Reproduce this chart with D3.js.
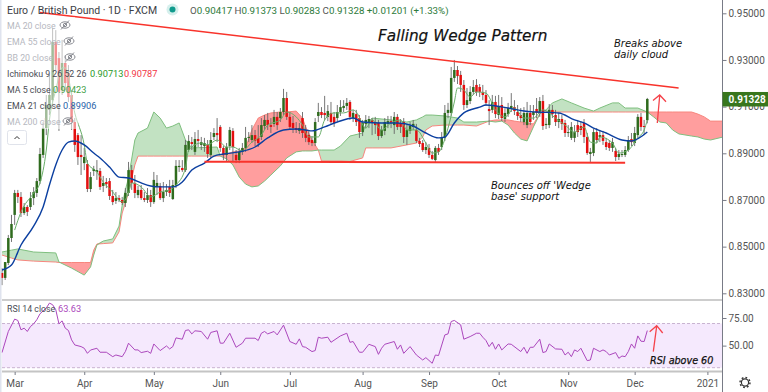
<!DOCTYPE html>
<html>
<head>
<meta charset="utf-8">
<script src="https://cdn.jsdelivr.net/npm/d3@7"></script>
<style>
  html, body { margin: 0; padding: 0; background: #fff; }
  svg { display: block; }
  text { font-family: Roboto, sans-serif; }
  .note { font-family: "DejaVu Sans", sans-serif; font-style: italic; fill: #111; }
</style>
</head>
<body>
<div id="chart"></div>
<script>
// daily candles, one entry per bar
const opens = [
  0.8387,0.8366,0.8430,0.8537,0.8636,0.8730,0.8713,0.8644,0.8670,0.8670,
  0.8708,0.8730,0.8781,0.8893,0.9008,0.9086,0.9128,0.9377,0.9308,0.9171,
  0.9287,0.9244,0.9150,0.9034,0.8978,0.8893,0.8858,0.8854,0.8747,0.8824,
  0.8820,0.8824,0.8760,0.8777,0.8781,0.8717,0.8696,0.8708,0.8700,0.8687,
  0.8730,0.8828,0.8773,0.8721,0.8743,0.8708,0.8700,0.8721,0.8691,0.8756,
  0.8760,0.8708,0.8734,0.8756,0.8704,0.8760,0.8841,0.8837,0.8828,0.8914,
  0.8948,0.8906,0.8961,0.8936,0.8931,0.8936,0.8893,0.8970,0.8987,0.9013,
  0.8923,0.8893,0.8931,0.8996,0.8893,0.8871,0.8906,0.8923,0.8966,0.8957,
  0.8978,0.8966,0.8970,0.9017,0.9043,0.9021,0.9026,0.9056,0.9051,0.9077,
  0.9137,0.9056,0.9030,0.9008,0.8996,0.9051,0.9000,0.8978,0.8957,0.8944,
  0.9060,0.9077,0.9073,0.9056,0.9073,0.9056,0.9051,0.9077,0.9094,0.9103,
  0.9120,0.9051,0.9068,0.9051,0.8991,0.9026,0.9034,0.9043,0.9034,0.9030,
  0.8974,0.8996,0.9026,0.9038,0.9021,0.9056,0.9026,0.9034,0.8970,0.8996,
  0.9013,0.9000,0.8953,0.8944,0.8914,0.8923,0.8893,0.8871,0.8923,0.8927,
  0.8966,0.9073,0.9073,0.9223,0.9257,0.9236,0.9193,0.9107,0.9124,0.9163,
  0.9193,0.9184,0.9163,0.9150,0.9090,0.9086,0.9120,0.9064,0.9107,0.9047,
  0.9068,0.9094,0.9098,0.9077,0.9064,0.9034,0.9021,0.9073,0.9064,0.9090,
  0.9073,0.9124,0.9021,0.9021,0.9086,0.9064,0.9034,0.9047,0.9030,0.8987,
  0.8966,0.8966,0.9021,0.9017,0.9030,0.8970,0.8897,0.8901,0.8991,0.8970,
  0.8978,0.8948,0.8944,0.8923,0.8910,0.8884,0.8893,0.8893,0.8914,0.8961,
  0.8944,0.8978,0.9056,0.9017,0.90417
];
const highs = [
  0.8408,0.8434,0.8550,0.8636,0.8743,0.8743,0.8734,0.8687,0.8678,0.8734,
  0.8755,0.8794,0.8923,0.9034,0.9150,0.9236,0.9437,0.9428,0.9334,0.9386,
  0.9321,0.9278,0.9171,0.9051,0.8987,0.8978,0.8923,0.8871,0.8820,0.8846,
  0.8871,0.8837,0.8803,0.8794,0.8794,0.8743,0.8734,0.8721,0.8713,0.8751,
  0.8863,0.8850,0.8807,0.8760,0.8764,0.8734,0.8751,0.8743,0.8820,0.8807,
  0.8773,0.8777,0.8768,0.8786,0.8786,0.8871,0.8871,0.8871,0.8957,0.8978,
  0.8970,0.8991,0.9000,0.8970,0.8966,0.8957,0.8991,0.9008,0.9051,0.9021,
  0.8931,0.8944,0.9013,0.9008,0.8914,0.8923,0.8944,0.9013,0.8991,0.9021,
  0.9000,0.9021,0.9051,0.9064,0.9073,0.9051,0.9086,0.9077,0.9094,0.9176,
  0.9163,0.9077,0.9060,0.9034,0.9030,0.9077,0.9021,0.9000,0.8974,0.9051,
  0.9116,0.9098,0.9146,0.9107,0.9120,0.9077,0.9107,0.9128,0.9128,0.9137,
  0.9128,0.9086,0.9086,0.9064,0.9043,0.9064,0.9060,0.9051,0.9056,0.9043,
  0.9017,0.9051,0.9060,0.9060,0.9077,0.9068,0.9047,0.9051,0.9021,0.9034,
  0.9043,0.9026,0.8966,0.8957,0.8948,0.8940,0.8910,0.8931,0.8940,0.8991,
  0.9107,0.9116,0.9270,0.9300,0.9274,0.9253,0.9214,0.9180,0.9188,0.9214,
  0.9218,0.9197,0.9193,0.9171,0.9128,0.9150,0.9146,0.9150,0.9141,0.9094,
  0.9116,0.9158,0.9128,0.9107,0.9094,0.9098,0.9120,0.9107,0.9107,0.9137,
  0.9141,0.9150,0.9051,0.9111,0.9107,0.9086,0.9073,0.9064,0.9043,0.9021,
  0.9034,0.9021,0.9043,0.9038,0.9047,0.8987,0.8923,0.9004,0.9008,0.9000,
  0.8996,0.8966,0.8957,0.8966,0.8923,0.8914,0.8914,0.8931,0.8974,0.8987,
  0.9013,0.9068,0.9073,0.9043,0.91373
];
const lows = [
  0.8335,0.8357,0.8421,0.8520,0.8593,0.8687,0.8627,0.8636,0.8631,0.8657,
  0.8678,0.8713,0.8768,0.8880,0.8978,0.9064,0.9107,0.9257,0.8996,0.9150,
  0.9171,0.9120,0.9000,0.8906,0.8850,0.8807,0.8828,0.8734,0.8734,0.8803,
  0.8786,0.8743,0.8734,0.8751,0.8700,0.8678,0.8683,0.8691,0.8678,0.8670,
  0.8717,0.8743,0.8708,0.8708,0.8700,0.8691,0.8687,0.8670,0.8683,0.8721,
  0.8700,0.8691,0.8717,0.8713,0.8700,0.8751,0.8820,0.8820,0.8820,0.8906,
  0.8914,0.8893,0.8927,0.8914,0.8906,0.8880,0.8880,0.8957,0.8948,0.8906,
  0.8871,0.8867,0.8914,0.8863,0.8858,0.8858,0.8893,0.8906,0.8948,0.8944,
  0.8931,0.8927,0.8957,0.9000,0.9000,0.8987,0.9013,0.9000,0.9034,0.9064,
  0.9043,0.9000,0.8987,0.8987,0.8983,0.8966,0.8948,0.8936,0.8931,0.8931,
  0.9034,0.9051,0.9043,0.9038,0.9021,0.9013,0.9038,0.9060,0.9077,0.9086,
  0.9043,0.9034,0.9017,0.8966,0.8974,0.9008,0.9008,0.8978,0.8983,0.8957,
  0.8966,0.8978,0.9008,0.9008,0.8983,0.9000,0.8987,0.8944,0.8936,0.8983,
  0.9000,0.8944,0.8927,0.8906,0.8897,0.8880,0.8871,0.8863,0.8893,0.8914,
  0.8953,0.9051,0.9060,0.9206,0.9197,0.9163,0.9086,0.9094,0.9111,0.9150,
  0.9146,0.9141,0.9128,0.9103,0.9021,0.9073,0.9051,0.9047,0.9038,0.9034,
  0.9056,0.9077,0.9064,0.9043,0.9034,0.9021,0.9008,0.9021,0.9043,0.9051,
  0.9056,0.9000,0.9004,0.9008,0.9051,0.9017,0.9008,0.9000,0.8970,0.8970,
  0.8957,0.8948,0.8970,0.8978,0.8944,0.8893,0.8863,0.8888,0.8944,0.8948,
  0.8936,0.8914,0.8910,0.8906,0.8867,0.8871,0.8884,0.8884,0.8906,0.8931,
  0.8931,0.8966,0.8996,0.8978,0.90283
];
const closes = [
  0.8366,0.8434,0.8537,0.8597,0.8730,0.8713,0.8644,0.8670,0.8649,0.8708,
  0.8734,0.8781,0.8897,0.9008,0.9107,0.9150,0.9377,0.9278,0.9163,0.9287,
  0.9201,0.9141,0.9034,0.8936,0.8884,0.8884,0.8884,0.8747,0.8798,0.8833,
  0.8828,0.8756,0.8773,0.8768,0.8717,0.8691,0.8708,0.8700,0.8687,0.8730,
  0.8828,0.8773,0.8730,0.8743,0.8708,0.8700,0.8721,0.8691,0.8786,0.8773,
  0.8708,0.8734,0.8743,0.8730,0.8764,0.8846,0.8846,0.8828,0.8936,0.8953,
  0.8940,0.8961,0.8953,0.8948,0.8944,0.8897,0.8957,0.8987,0.8978,0.8923,
  0.8893,0.8927,0.9000,0.8927,0.8871,0.8906,0.8923,0.8966,0.8970,0.8978,
  0.8953,0.8944,0.9021,0.9043,0.9021,0.9013,0.9056,0.9021,0.9077,0.9137,
  0.9056,0.9013,0.9008,0.9000,0.9008,0.8987,0.8966,0.8948,0.8944,0.9034,
  0.9077,0.9064,0.9064,0.9081,0.9034,0.9030,0.9077,0.9098,0.9103,0.9116,
  0.9056,0.9073,0.9034,0.8991,0.9030,0.9043,0.9047,0.9030,0.9021,0.8974,
  0.9000,0.9034,0.9038,0.9030,0.9056,0.9013,0.9013,0.8970,0.9000,0.9017,
  0.9026,0.8953,0.8940,0.8914,0.8927,0.8893,0.8876,0.8923,0.8906,0.8966,
  0.9073,0.9086,0.9223,0.9257,0.9231,0.9193,0.9107,0.9128,0.9163,0.9184,
  0.9163,0.9163,0.9150,0.9116,0.9081,0.9120,0.9068,0.9103,0.9051,0.9073,
  0.9094,0.9103,0.9081,0.9060,0.9051,0.9073,0.9073,0.9034,0.9077,0.9073,
  0.9124,0.9017,0.9026,0.9086,0.9068,0.9034,0.9047,0.9026,0.8987,0.8991,
  0.9013,0.8991,0.8991,0.9000,0.8970,0.8901,0.8906,0.8991,0.8957,0.8978,
  0.8953,0.8927,0.8923,0.8948,0.8884,0.8897,0.8897,0.8914,0.8957,0.8948,
  0.8987,0.9056,0.9013,0.9013,0.91328
];

// indicators, read at the bars where they turn
const emaBars = [0,3,6,10,13,15,17,19,21,23,26,29,31,34,37,40,41,44,47,50,54,57,60,64,67,70,75,80,84,89,93,96,98,102,106,111,114,120,125,130,134,138,140,143,146,151,153,160,165,169,176,181,184,187,191,196,199,204];
const emaValues = [0.8400,0.8421,0.8507,0.8588,0.8670,0.8764,0.8850,0.8914,0.8948,0.8953,0.8936,0.8901,0.8880,0.8841,0.8798,0.8794,0.8790,0.8773,0.8760,0.8756,0.8756,0.8777,0.8828,0.8858,0.8888,0.8897,0.8906,0.8927,0.8966,0.9000,0.9004,0.9000,0.8996,0.9013,0.9034,0.9051,0.9034,0.9030,0.9030,0.9017,0.8987,0.8966,0.8970,0.9030,0.9073,0.9098,0.9107,0.9094,0.9081,0.9077,0.9073,0.9043,0.9030,0.9008,0.8987,0.8957,0.8953,0.8991];

const maBars = [4,6,10,12,14,15,17,19,20,23,26,27,30,32,35,38,40,41,44,47,50,53,55,58,59,63,65,68,71,73,76,79,82,84,88,90,93,95,97,100,102,105,108,111,112,115,117,120,123,126,128,131,134,136,138,141,143,144,146,148,150,153,156,159,162,165,168,171,175,178,181,184,186,188,189,193,195,198,201,203,204];
const maValues = [0.8571,0.8648,0.8730,0.8773,0.8914,0.9043,0.9171,0.9266,0.9266,0.9073,0.8936,0.8858,0.8820,0.8777,0.8734,0.8691,0.8730,0.8773,0.8756,0.8713,0.8734,0.8743,0.8764,0.8837,0.8914,0.8944,0.8936,0.8957,0.8927,0.8927,0.8910,0.8948,0.8978,0.9021,0.9043,0.9077,0.9056,0.9021,0.8970,0.8970,0.9043,0.9073,0.9073,0.9086,0.9077,0.9008,0.9043,0.9000,0.9030,0.9043,0.9000,0.9000,0.8944,0.8901,0.8906,0.9008,0.9120,0.9180,0.9171,0.9141,0.9163,0.9158,0.9086,0.9056,0.9094,0.9051,0.9051,0.9086,0.9051,0.9021,0.8991,0.9013,0.8948,0.8944,0.8970,0.8944,0.8901,0.8914,0.8966,0.9000,0.90423];

const cloudBars = [0,3,5,10,17,18,22,26,28,29,30,32,35,37,38,39,40,42,43,46,48,50,52,54,56,58,60,68,69,71,73,75,77,79,81,83,85,88,90,93,95,96,98,100,101,105,107,110,114,115,117,123,128,131,133,134,136,140,144,146,150,154,156,158,160,162,164,166,168,170,171,172,174,177,180,184,187,189,193,195,197,201,204,206,208,210,212,214,218,220,222,224,228];
const spanA = [0.8477,0.8485,0.8490,0.8477,0.8473,0.8434,0.8408,0.8378,0.8413,0.8464,0.8507,0.8524,0.8533,0.8588,0.8678,0.8743,0.8794,0.8957,0.8987,0.9008,0.9077,0.9051,0.9008,0.9017,0.9030,0.8957,0.8923,0.8927,0.8888,0.8876,0.8850,0.8798,0.8768,0.8756,0.8760,0.8781,0.8807,0.8846,0.8880,0.8906,0.8910,0.8910,0.8910,0.8914,0.8914,0.8914,0.8931,0.8974,0.8987,0.9021,0.9051,0.9043,0.9034,0.9043,0.9056,0.9064,0.9064,0.9060,0.9051,0.9034,0.9034,0.9038,0.9034,0.9038,0.9021,0.8987,0.8961,0.8953,0.9013,0.9068,0.9081,0.9086,0.9116,0.9133,0.9116,0.9094,0.9081,0.9094,0.9116,0.9116,0.9094,0.9094,0.9077,0.9056,0.9034,0.9030,0.9000,0.8983,0.8974,0.8970,0.8961,0.8957,0.8970];
const spanB = [0.8464,0.8451,0.8443,0.8438,0.8434,0.8432,0.8432,0.8432,0.8432,0.8485,0.8511,0.8513,0.8516,0.8563,0.8644,0.8687,0.8730,0.8850,0.8888,0.8888,0.8888,0.8888,0.8888,0.8888,0.8888,0.8888,0.8888,0.8888,0.8888,0.8897,0.8906,0.8910,0.8923,0.9000,0.9051,0.9064,0.9073,0.9077,0.9077,0.9081,0.9051,0.9013,0.8957,0.8914,0.8867,0.8867,0.8867,0.8865,0.8880,0.8923,0.8923,0.8923,0.8936,0.8944,0.8970,0.9000,0.9017,0.9021,0.9021,0.9021,0.9017,0.9038,0.9043,0.9043,0.9043,0.9038,0.9034,0.9030,0.9026,0.9068,0.9077,0.9077,0.9077,0.9077,0.9077,0.9077,0.9077,0.9077,0.9077,0.9077,0.9077,0.9077,0.9077,0.9077,0.9077,0.9077,0.9077,0.9077,0.9077,0.9068,0.9056,0.9038,0.9038];

const rsiBars = [0,2,4,5,6,7,8,9,10,11,12,14,15,16,17,18,19,20,21,22,23,25,26,27,28,30,31,33,35,36,38,39,40,42,43,44,46,47,48,50,52,53,54,55,57,58,59,60,61,63,65,66,68,69,70,72,74,76,77,80,81,82,83,84,86,87,89,91,93,94,95,96,98,99,100,101,103,104,107,109,110,111,113,114,116,118,119,120,121,124,125,126,127,129,131,133,134,136,137,138,140,141,142,143,145,146,148,150,151,152,153,154,155,156,157,158,160,161,164,165,166,167,168,170,171,172,173,175,177,178,179,180,181,182,183,185,186,187,189,190,191,192,194,195,196,197,198,199,200,201,202,203,204];
const rsiValues = [43.7,62.8,74,72.8,64.3,65.8,62.8,67.3,69.7,73.4,78.8,84,88.5,87,82.5,69.7,72.4,65.8,63.7,55.2,50.6,49.1,47.6,43,46,47.6,44,44,40,41.5,40,44.6,52.2,46.1,46.1,43.7,44.9,43,51.5,45.5,49.7,47,49.1,57,55.8,63.7,64.3,60.6,63.4,62.8,55.8,61.9,63.4,52.2,52.2,61.2,48.5,52.2,56.7,56.7,54.6,61.2,62.8,60.6,62.8,59.7,68.5,53.7,51.2,56.1,49.1,48.5,44.6,45.5,57.6,56.7,57.6,53,58.8,61.2,53,53.7,44,44,51.2,49.1,42.1,47.6,51.2,53.7,46.7,50.6,43,49.1,41.5,37,39.1,34,41.5,41,59.7,60.6,71.8,72.8,68.8,55.8,58.2,61.2,61.2,57.6,54.6,49.1,53,46.7,51.5,46.1,51.5,51.2,44.6,48.5,43,48.5,48.5,55.8,43.7,44.6,51.5,47,46.7,41.5,44,40,46.1,44.6,47.6,36.4,37,47.6,44.6,46.1,44.6,41.5,43.7,38.5,40.6,40,44.6,51.5,47.6,58.8,54,53.7,63.63];

// axis labels
const priceTicks = [0.95, 0.93, 0.91, 0.89, 0.87, 0.85, 0.83];
const rsiTicks = [75, 50];
const monthBars = [4, 26, 48, 69, 91, 114, 135, 157, 179, 200, 223];
const monthLabels = ["Mar", "Apr", "May", "Jun", "Jul", "Aug", "Sep", "Oct", "Nov", "Dec", "2021"];
const lastPrice = 0.91328;

// trend lines as drawn on the chart: [bar, price]
const wedgeTop = [[12, 0.9503], [213.9, 0.9180]];
const wedgeBase = [[64, 0.8864], [197, 0.8859]];

const width = 768;
const height = 392;
const axisX = 722.5;

const svg = d3.select("#chart").append("svg").attr("width", width).attr("height", height);

svg.append("defs").append("clipPath").attr("id", "mainClip")
  .append("rect").attr("x", 0).attr("y", 0).attr("width", axisX).attr("height", 299);
svg.select("defs").append("clipPath").attr("id", "rsiClip")
  .append("rect").attr("x", 0).attr("y", 301).attr("width", axisX).attr("height", 70);

const xScale = d3.scaleLinear().domain([0, 204]).range([2, 647.3]);
const yScale = d3.scaleLinear().domain([0.83, 0.95]).range([293.3, 13.3]);
const rsiScale = d3.scaleLinear().domain([30, 75]).range([367.7, 318]);

const main = svg.append("g").attr("clip-path", "url(#mainClip)");

// Ichimoku cloud
const cloud = cloudBars.map((b, i) => ({ bar: b, a: spanA[i], b: spanB[i] }));
const areaTo = (key) =>
  d3.area()
    .x((d) => xScale(d.bar))
    .y0((d) => yScale(d[key]))
    .y1((d) => yScale(Math.max(d.a, d.b)));

main.append("path").datum(cloud).attr("d", areaTo("b")).attr("fill", "#c2e2c2");
main.append("path").datum(cloud).attr("d", areaTo("a")).attr("fill", "#ff9e9e");
main.append("path").datum(cloud)
  .attr("d", d3.line().x((d) => xScale(d.bar)).y((d) => yScale(d.b)))
  .attr("fill", "none").attr("stroke", "#f7867e").attr("stroke-width", 1);
main.append("path").datum(cloud)
  .attr("d", d3.line().x((d) => xScale(d.bar)).y((d) => yScale(d.a)))
  .attr("fill", "none").attr("stroke", "#7fbf7f").attr("stroke-width", 1);

// candles
const candles = main.append("g").selectAll("g").data(opens).enter().append("g");
candles.append("line")
  .attr("x1", (d, i) => xScale(i)).attr("x2", (d, i) => xScale(i))
  .attr("y1", (d, i) => yScale(highs[i])).attr("y2", (d, i) => yScale(lows[i]))
  .attr("stroke", "#666").attr("stroke-width", 0.9);
candles.append("rect")
  .attr("x", (d, i) => xScale(i) - 1.25)
  .attr("width", 2.5)
  .attr("y", (d, i) => yScale(Math.max(d, closes[i])))
  .attr("height", (d, i) => Math.max(1, Math.abs(yScale(d) - yScale(closes[i]))))
  .attr("fill", (d, i) => (closes[i] >= d ? "#2f6b1e" : "#e30f0f"));

// MA 5 and EMA 21
main.append("path").datum(maBars)
  .attr("d", d3.line().x((d) => xScale(d)).y((d, i) => yScale(maValues[i])).curve(d3.curveMonotoneX))
  .attr("fill", "none").attr("stroke", "#6aae6a").attr("stroke-width", 1);
main.append("path").datum(emaBars)
  .attr("d", d3.line().x((d) => xScale(d)).y((d, i) => yScale(emaValues[i])).curve(d3.curveMonotoneX))
  .attr("fill", "none").attr("stroke", "#0b3fa0").attr("stroke-width", 1.4);

// wedge lines
const trend = d3.line().x((d) => xScale(d[0])).y((d) => yScale(d[1]));
main.append("path").attr("d", trend(wedgeTop)).attr("fill", "none").attr("stroke", "#f8332b").attr("stroke-width", 1.5);
main.append("path").attr("d", trend(wedgeBase)).attr("fill", "none").attr("stroke", "#f8332b").attr("stroke-width", 2);

// hand drawn arrows
svg.append("path").attr("d", "M657.3,123L659.7,95.5M653,100.5L659.7,95L666,101.7")
  .attr("fill", "none").attr("stroke", "#f5424a").attr("stroke-width", 1.3);

// annotations
svg.append("text").attr("class", "note").attr("x", 378).attr("y", 41)
  .style("font-size", "15.3px").style("stroke", "#111").style("stroke-width", "0.2px").text("Falling Wedge Pattern");
svg.append("text").attr("class", "note").attr("x", 614).attr("y", 47).style("font-size", "10px").text("Breaks above");
svg.append("text").attr("class", "note").attr("x", 614).attr("y", 57.5).style("font-size", "10px").text("daily cloud");
svg.append("text").attr("class", "note").attr("x", 491).attr("y", 189).style("font-size", "10px").text("Bounces off 'Wedge");
svg.append("text").attr("class", "note").attr("x", 491).attr("y", 200).style("font-size", "10px").text("base' support");

// legend: rows over the candles are washed out
const rows = [
  { y: 25, w: 73, label: "MA 20 close", off: true, icon: 65 },
  { y: 41, w: 77, label: "EMA 55 close", off: true, icon: 69 },
  { y: 57, w: 78, label: "BB 20 close", off: true, icon: 70 },
  { y: 73, w: 157, label: "Ichimoku 9 26 52 26", vals: [["0.90713", "#2a9a2a", 90], ["0.90787", "#f23645", 124]] },
  { y: 89, w: 85, label: "MA 5 close", vals: [["0.90423", "#43a047", 53]] },
  { y: 105, w: 95, label: "EMA 21 close", vals: [["0.89906", "#2962a8", 63]] },
  { y: 121, w: 76, label: "MA 200 close", off: true, icon: 68 },
];
const legend = svg.append("g");
rows.forEach((r) => {
  legend.append("rect").attr("x", 2).attr("y", r.y - 8).attr("width", r.w).attr("height", 16)
    .attr("fill", "#fff").attr("opacity", 0.55);
  legend.append("text").attr("x", 7).attr("y", r.y + 3.5).style("font-size", "8.8px")
    .attr("fill", r.off ? "#b6b8c0" : "#4a4c54").text(r.label);
  (r.vals || []).forEach((v) => {
    legend.append("text").attr("x", v[2]).attr("y", r.y + 3.5).style("font-size", "9.2px").attr("fill", v[1]).text(v[0]);
  });
  if (r.off) {
    const eye = legend.append("g").attr("transform", `translate(${r.icon},${r.y})`)
      .attr("fill", "none").attr("stroke", "#7d7f87").attr("stroke-width", 0.9);
    eye.append("ellipse").attr("rx", 5).attr("ry", 3.2);
    eye.append("circle").attr("r", 1.7);
    eye.append("path").attr("d", "M-4,4.5L4,-4.5");
  }
});
legend.append("rect").attr("x", 7.5).attr("y", 130.5).attr("width", 19).attr("height", 14).attr("rx", 2)
  .attr("fill", "#fff").attr("stroke", "#e0e3eb");
legend.append("path").attr("d", "M14.5,139L17,136.5L19.5,139").attr("fill", "none").attr("stroke", "#333").attr("stroke-width", 1);

// header
svg.append("text").attr("x", 7).attr("y", 14).style("font-size", "10.5px").attr("fill", "#3c3e46")
  .text("Euro / British Pound · 1D · FXCM");
svg.append("circle").attr("cx", 172.5).attr("cy", 9.5).attr("r", 6).attr("fill", "#d5efec");
svg.append("circle").attr("cx", 172.5).attr("cy", 9.5).attr("r", 3).attr("fill", "#0f9a8c");
const ohlc = svg.append("text").attr("x", 190).attr("y", 13.5).style("font-size", "9.75px").attr("fill", "#2d7a3a");
[["O", "0.90417 "], ["H", "0.91373 "], ["L", "0.90283 "], ["C", "0.91328 "]].forEach((p) => {
  ohlc.append("tspan").attr("fill", "#555").text(p[0]);
  ohlc.append("tspan").text(p[1]);
});
ohlc.append("tspan").text("+0.01201 (+1.33%)");

// RSI panel
const rsiPanel = svg.append("g");
rsiPanel.append("rect").attr("x", 2).attr("width", axisX - 2)
  .attr("y", rsiScale(70)).attr("height", rsiScale(30) - rsiScale(70)).attr("fill", "#f5e9fd");
[70, 30].forEach((v) => {
  rsiPanel.append("line").attr("x1", 2).attr("x2", axisX).attr("y1", rsiScale(v)).attr("y2", rsiScale(v))
    .attr("stroke", "#c9b3d1").attr("stroke-dasharray", "3,2");
});
svg.append("g").attr("clip-path", "url(#rsiClip)").append("path").datum(rsiBars)
  .attr("d", d3.line().x((d) => xScale(d)).y((d, i) => rsiScale(rsiValues[i])))
  .attr("fill", "none").attr("stroke", "#ab47bc").attr("stroke-width", 1);
svg.append("path").attr("d", "M653.3,351.7L656.7,326M649.7,331.7L656.7,325.7L662.7,333")
  .attr("fill", "none").attr("stroke", "#f5424a").attr("stroke-width", 1.3);
svg.append("text").attr("class", "note").attr("x", 650).attr("y", 364)
  .style("font-size", "9.6px").style("stroke", "#111").style("stroke-width", "0.25px").text("RSI above 60");
svg.append("text").attr("x", 7).attr("y", 312).style("font-size", "8.8px").attr("fill", "#4a4c54").text("RSI 14 close");
svg.append("text").attr("x", 58).attr("y", 312).style("font-size", "9.2px").attr("fill", "#ab47bc").text("63.63");

// panel frame
svg.append("line").attr("x1", 0.5).attr("x2", 0.5).attr("y1", 0).attr("y2", height).attr("stroke", "#dfe3ee").attr("stroke-width", 2);
svg.append("line").attr("x1", 2).attr("x2", axisX).attr("y1", 300).attr("y2", 300).attr("stroke", "#9b9b9b").attr("stroke-width", 1);
svg.append("line").attr("x1", 2).attr("x2", axisX).attr("y1", 371.5).attr("y2", 371.5).attr("stroke", "#c4c4c4").attr("stroke-width", 2);

// price axis
const styleAxis = (g) => {
  g.select(".domain").attr("stroke", "#787b86");
  g.selectAll(".tick line").attr("stroke", "#787b86");
  g.selectAll(".tick text").attr("fill", "#555").style("font-size", "10px").style("font-family", "Roboto, sans-serif");
};
svg.append("g").attr("transform", `translate(${axisX},0)`)
  .call(d3.axisRight(yScale).tickValues(priceTicks).tickFormat(d3.format(".5f")).tickSize(4).tickPadding(2))
  .call(styleAxis)
  .select(".domain").attr("d", "M0,0V300");
svg.append("g").attr("transform", `translate(${axisX},0)`)
  .call(d3.axisRight(rsiScale).tickValues(rsiTicks).tickFormat(d3.format(".2f")).tickSize(4).tickPadding(2))
  .call(styleAxis)
  .select(".domain").attr("d", "M0,300V392");

// last price tag
svg.append("rect").attr("x", axisX).attr("y", yScale(lastPrice) - 7).attr("width", width - axisX).attr("height", 14.5).attr("fill", "#38761d");
svg.append("text").attr("x", axisX + 6).attr("y", yScale(lastPrice) + 3.7)
  .style("font-size", "10px").style("font-weight", "700")
  .attr("fill", "#fff").text(d3.format(".5f")(lastPrice));

// time axis
svg.append("g").attr("transform", "translate(0,372)")
  .call(d3.axisBottom(xScale).tickValues(monthBars).tickFormat((d, i) => monthLabels[i]).tickSize(3).tickPadding(5))
  .call(styleAxis)
  .select(".domain").remove();

// settings gear
const gear = svg.append("g").attr("transform", "translate(745,382.5)").attr("fill", "none").attr("stroke", "#333");
gear.append("circle").attr("r", 3.6).attr("stroke-width", 1.2);
gear.append("circle").attr("r", 5).attr("stroke-width", 1.4).attr("stroke-dasharray", "1.8,2.1");
</script>
</body>
</html>
